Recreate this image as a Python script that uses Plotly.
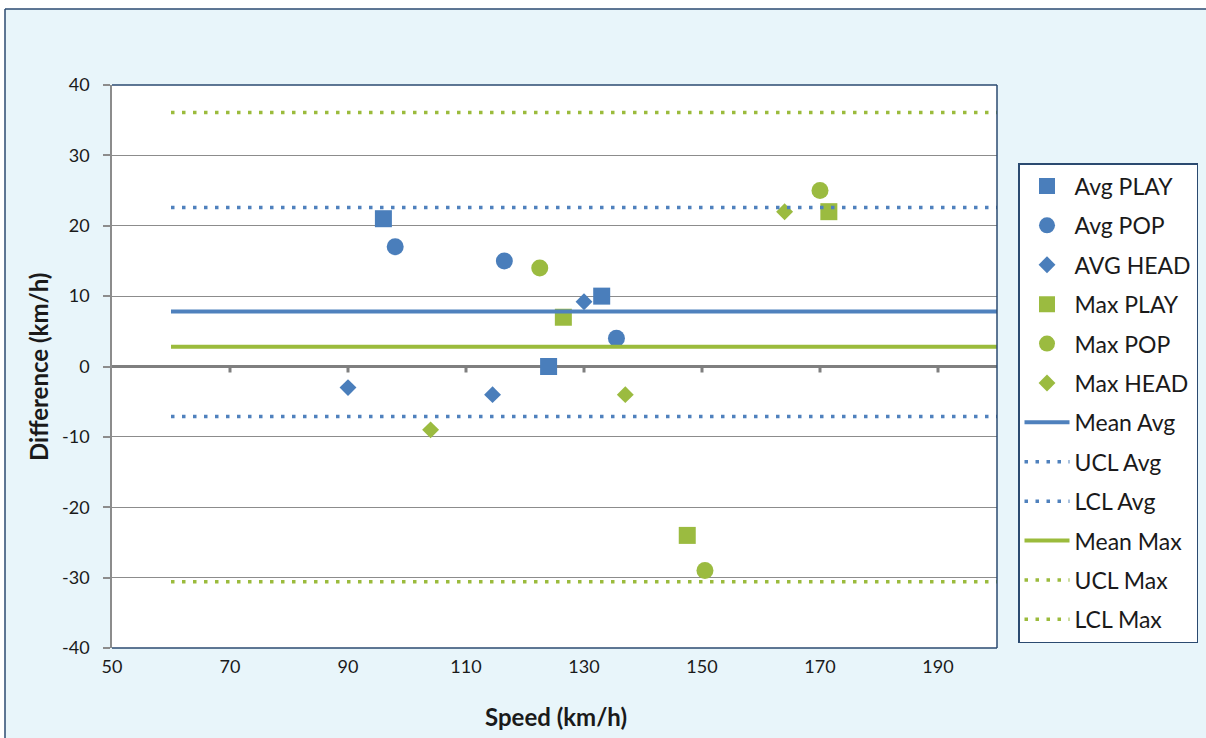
import plotly.graph_objects as go

# ---- data ----
avg_play_x = [96, 133, 124]
avg_play_y = [21, 10, 0]
avg_pop_x = [98, 116.5, 135.5]
avg_pop_y = [17, 15, 4]
avg_head_x = [90, 114.5, 130]
avg_head_y = [-3, -4, 9.2]
max_play_x = [126.5, 147.5, 171.5]
max_play_y = [7, -24, 22]
max_pop_x = [122.5, 150.5, 170]
max_pop_y = [14, -29, 25]
max_head_x = [104, 137, 164]
max_head_y = [-9, -4, 22]

line_x = [60, 200]
mean_avg = 7.8
ucl_avg = 22.6
lcl_avg = -7.1
mean_max = 2.8
ucl_max = 36.1
lcl_max = -30.6

x_ticks = [50, 70, 90, 110, 130, 150, 170, 190]
y_ticks = [-40, -30, -20, -10, 0, 10, 20, 30, 40]

BLUE = "#4a7ebb"
GREEN = "#9bbb40"
BLUE_L = "#4f81bd"
GREEN_L = "#9bbb3c"
NAVY = "#2b4a70"
FONT = "Lato"

fig = go.Figure()

def pts(x, y, name, color, symbol, size):
    fig.add_trace(go.Scatter(
        x=x, y=y, mode="markers", name=name, legendgroup=name,
        marker=dict(color=color, symbol=symbol, size=size,
                    line=dict(color=color, width=0))))

pts(avg_play_x, avg_play_y, "Avg PLAY", BLUE, "square", 17)
pts(avg_pop_x, avg_pop_y, "Avg POP", BLUE, "circle", 17)
pts(avg_head_x, avg_head_y, "AVG HEAD", BLUE, "diamond", 13)
pts(max_play_x, max_play_y, "Max PLAY", GREEN, "square", 17)
pts(max_pop_x, max_pop_y, "Max POP", GREEN, "circle", 17)
pts(max_head_x, max_head_y, "Max HEAD", GREEN, "diamond", 13)

DOT = "3.5px,7.5px"

def hline(v, name, color, dash):
    fig.add_trace(go.Scatter(
        x=line_x, y=[v, v], mode="lines", name=name, legendgroup=name,
        line=dict(color=color, width=4 if dash is None else 3.5,
                  dash=dash if dash else "solid")))

hline(mean_avg, "Mean Avg", BLUE_L, None)
hline(ucl_avg, "UCL Avg", BLUE_L, DOT)
hline(lcl_avg, "LCL Avg", BLUE_L, DOT)
hline(mean_max, "Mean Max", GREEN_L, None)
hline(ucl_max, "UCL Max", GREEN_L, DOT)
hline(lcl_max, "LCL Max", GREEN_L, DOT)

L, R, T, B = 112, 209, 85, 90
W, H = 1206, 738
pw = W - L - R
ph = H - T - B

def px_to_paper_x(p):
    return (p - L) / pw

def px_to_paper_y(p):
    return (H - B - p) / ph

shapes = []
# white outside strips + frame border
shapes.append(dict(type="rect", xref="paper", yref="paper", layer="below",
                   x0=-1, x1=px_to_paper_x(5), y0=-1, y1=2,
                   fillcolor="white", line=dict(width=0)))
shapes.append(dict(type="rect", xref="paper", yref="paper", layer="below",
                   x0=-1, x1=2, y0=px_to_paper_y(9), y1=2,
                   fillcolor="white", line=dict(width=0)))
shapes.append(dict(type="line", xref="paper", yref="paper",
                   x0=px_to_paper_x(5), x1=px_to_paper_x(5), y0=-1, y1=px_to_paper_y(9),
                   line=dict(color=NAVY, width=1.5)))
shapes.append(dict(type="line", xref="paper", yref="paper",
                   x0=px_to_paper_x(5), x1=2, y0=px_to_paper_y(9), y1=px_to_paper_y(9),
                   line=dict(color=NAVY, width=1.5)))
# plot border (top, right, bottom) navy
shapes.append(dict(type="line", xref="paper", yref="paper", x0=0, x1=1, y0=1, y1=1,
                   line=dict(color=NAVY, width=1.5)))
shapes.append(dict(type="line", xref="paper", yref="paper", x0=1, x1=1, y0=0, y1=1,
                   line=dict(color=NAVY, width=1.5)))
shapes.append(dict(type="line", xref="paper", yref="paper", x0=0, x1=1, y0=0, y1=0,
                   line=dict(color=NAVY, width=1.5)))
# tick marks on the zero line
for t in x_ticks[1:]:
    shapes.append(dict(type="line", xref="x", yref="y", ysizemode="pixel", yanchor=0,
                       x0=t, x1=t, y0=-1, y1=-6, line=dict(color="#7f7f7f", width=3)))

annotations = [
    dict(text="<b>Speed (km/h)</b>", xref="paper", yref="paper",
         x=px_to_paper_x(556), y=px_to_paper_y(716), showarrow=False,
         xanchor="center", yanchor="middle", font=dict(family=FONT, size=24, color="#1a1a1a")),
    dict(text="<b>Difference (km/h)</b>", xref="paper", yref="paper",
         x=px_to_paper_x(38), y=px_to_paper_y(367), showarrow=False, textangle=-90,
         xanchor="center", yanchor="middle", font=dict(family=FONT, size=24, color="#1a1a1a")),
]

fig.update_layout(
    width=W, height=H,
    margin=dict(l=L, r=R, t=T, b=B, autoexpand=False),
    paper_bgcolor="#e8f5fa",
    plot_bgcolor="white",
    font=dict(family=FONT, size=18, color="#1a1a1a"),
    shapes=shapes,
    annotations=annotations,
    showlegend=True,
    legend=dict(
        x=px_to_paper_x(1018), y=px_to_paper_y(163), xanchor="left", yanchor="top",
        bgcolor="white", bordercolor=NAVY, borderwidth=1.5,
        font=dict(family=FONT, size=23, color="#1a1a1a"),
        tracegroupgap=6.5, itemwidth=45, maxheight=650,
    ),
    xaxis=dict(range=[50, 200], tickvals=x_ticks, ticktext=[str(v) for v in x_ticks],
               showgrid=False, zeroline=False, showline=False, ticks="",
               tickfont=dict(family=FONT, size=18, color="#1a1a1a"),
               ticklabelstandoff=6),
    yaxis=dict(range=[-40, 40], tickvals=y_ticks, ticktext=[str(v) for v in y_ticks],
               showgrid=True, gridcolor="#8c8c8c", gridwidth=1,
               zeroline=True, zerolinecolor="#7f7f7f", zerolinewidth=3,
               showline=True, linecolor="#8c8c8c", linewidth=1.5,
               ticks="outside", ticklen=7, tickcolor="#8c8c8c", tickwidth=1.5,
               tickfont=dict(family=FONT, size=18, color="#1a1a1a"),
               ticklabelstandoff=10),
)

fig.write_html("out.html", config={"displayModeBar": False},
               post_script="document.body.style.margin='0';document.body.style.padding='0';")
